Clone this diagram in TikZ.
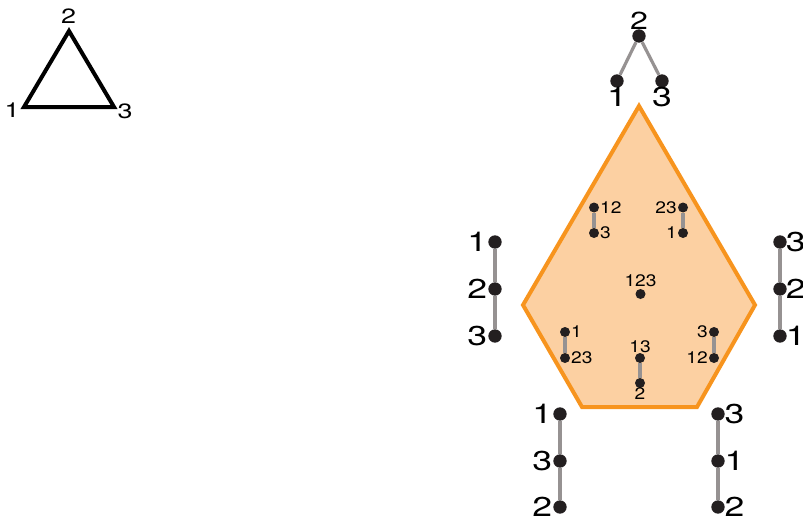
\documentclass[tikz,border=0pt]{standalone}
\usepackage{fontspec}
\setmainfont{TeX Gyre Heros}
\newfontfamily\widefont[FakeStretch=1.3]{TeX Gyre Heros}
\newfontfamily\halfwidefont[FakeStretch=1.15]{TeX Gyre Heros}
\definecolor{dotcol}{RGB}{35,31,32}
\definecolor{edgecol}{RGB}{150,146,146}
\definecolor{hexline}{RGB}{247,148,30}
\definecolor{hexfill}{RGB}{252,208,162}
\tikzset{
  bigdot/.style={circle,fill=dotcol,inner sep=0pt,minimum size=10pt},
  smalldot/.style={circle,fill=dotcol,inner sep=0pt,minimum size=7.5pt},
  biglbl/.style={font=\widefont\fontsize{20.5}{20.5}\selectfont,inner sep=0.5pt},
  smalllbl/.style={font=\halfwidefont\fontsize{12.5}{12.5}\selectfont,inner sep=0.5pt},
  trilbl/.style={font=\widefont\fontsize{15.5}{15.5}\selectfont,inner sep=0pt},
  link/.style={draw=edgecol,line width=2.4pt}
}
\begin{document}
\begin{tikzpicture}[x=0.75pt,y=0.75pt,yscale=-1,xscale=1]
\useasboundingbox (0,0) rectangle (803,521);

% triangle
\coordinate (t1) at (24,107);
\coordinate (t2) at (69,31);
\coordinate (t3) at (114,107);
\draw [line width=3pt,line join=miter] (t1) -- (t2) -- (t3) -- cycle;
\node [trilbl] (l2) at (68.5,16) {2};
\node [trilbl] (l1) at (12,110) {1};
\node [trilbl] (l3) at (125,111) {3};

% pentagon
\draw [draw=hexline,fill=hexfill,line width=3pt,line join=miter]
  (639,106) -- (755,305) -- (697,407) -- (582,407) -- (523,305) -- cycle;

% top tree
\node [bigdot,label={[biglbl,font=\widefont\fontsize{18.5}{18.5}\selectfont,label distance=-1pt]above:2}] (a2) at (639,36) {};
\node [bigdot,label={[biglbl,label distance=-1pt]below:1}] (a1) at (617,81) {};
\node [bigdot,label={[biglbl,label distance=-1pt]below:3}] (a3) at (662,81) {};
\draw [link] (a2) -- (a1);
\draw [link] (a2) -- (a3);

% left chain
\node [bigdot,label={[biglbl,label distance=0pt]left:1}] (b1) at (495,242) {};
\node [bigdot,label={[biglbl,label distance=0pt]left:2}] (b2) at (495,289) {};
\node [bigdot,label={[biglbl,label distance=0pt]left:3}] (b3) at (495,336) {};
\draw [link] (b1) -- (b2) -- (b3);

% right chain
\node [bigdot,label={[biglbl,label distance=-1.5pt]right:3}] (c3) at (780,242) {};
\node [bigdot,label={[biglbl,label distance=-1.5pt]right:2}] (c2) at (780,289) {};
\node [bigdot,label={[biglbl,label distance=-1.5pt]right:1}] (c1) at (780,336) {};
\draw [link] (c3) -- (c2) -- (c1);

% bottom left chain
\node [bigdot,label={[biglbl,label distance=0pt]left:1}] (d1) at (560,414) {};
\node [bigdot,label={[biglbl,label distance=0pt]left:3}] (d3) at (560,461) {};
\node [bigdot,label={[biglbl,label distance=0pt]left:2}] (d2) at (560,507) {};
\draw [link] (d1) -- (d3) -- (d2);

% bottom right chain
\node [bigdot,label={[biglbl,label distance=-1pt]right:3}] (e3) at (718,414) {};
\node [bigdot,label={[biglbl,label distance=-1pt]right:1}] (e1) at (718,461) {};
\node [bigdot,label={[biglbl,label distance=-1pt]right:2}] (e2) at (718,507) {};
\draw [link] (e3) -- (e1) -- (e2);

% inner vertices
\node [smalldot,label={[smalllbl]right:12}] (f12) at (594,207.5) {};
\node [smalldot,label={[smalllbl]right:3}] (f3) at (594,233) {};
\draw [link] (f12) -- (f3);
\node [smalldot,label={[smalllbl]left:23}] (g23) at (683,207.5) {};
\node [smalldot,label={[smalllbl]left:1}] (g1) at (683,233) {};
\draw [link] (g23) -- (g1);
\node [smalldot,label={[smalllbl,label distance=1pt]above:123}] (h123) at (640.5,294) {};
\node [smalldot,label={[smalllbl]right:1}] (i1) at (565,332) {};
\node [smalldot,label={[smalllbl]right:23}] (i23) at (565,358) {};
\draw [link] (i1) -- (i23);
\node [smalldot,label={[smalllbl]left:3}] (j3) at (714,332) {};
\node [smalldot,label={[smalllbl]left:12}] (j12) at (714,358) {};
\draw [link] (j3) -- (j12);
\node [smalldot,label={[smalllbl,label distance=-0.5pt]above:13}] (k13) at (640,358) {};
\node [smalldot,label={[smalllbl,label distance=-1pt]below:2}] (k2) at (640,383) {};
\draw [link] (k13) -- (k2);
\end{tikzpicture}
\end{document}
